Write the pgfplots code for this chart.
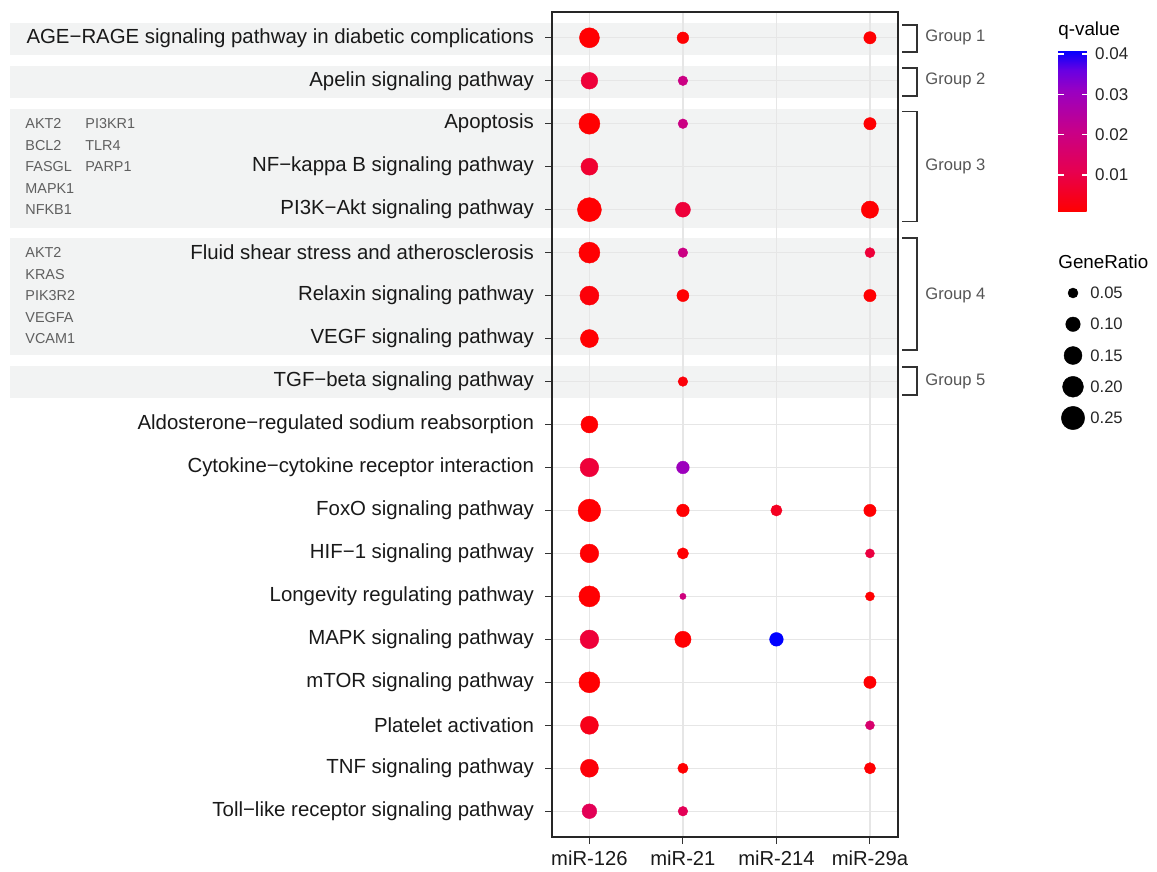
\documentclass[border=0pt]{standalone}
\usepackage{fontspec}
\setmainfont{Liberation Sans}
\usepackage{pgfplots}
\usepackage{pgfplotstable}
\pgfplotsset{compat=1.18}
\definecolor{band}{RGB}{242,243,243}
\definecolor{gridc}{RGB}{230,230,230}
\definecolor{genec}{RGB}{95,95,95}
\definecolor{grpc}{RGB}{85,85,85}
\definecolor{brk}{RGB}{50,50,50}

\pgfplotstableread{
x y gr
0 1 0.05
0 2 0.10
0 3 0.15
0 4 0.20
0 5 0.25
}\sizelegend

\pgfplotsset{
  dotsize/.style={
    scatter/@pre marker code/.append style={/tikz/mark size={0.5*sqrt(560*\gr-3)}},
  },
  dotstyle/.style={
    scatter, only marks, mark=*, point meta=explicit,
    visualization depends on={\thisrow{gr} \as \gr},
    scatter/use mapped color={draw=mapped color, fill=mapped color, line width=0.2pt},
    dotsize,
  }
}

\begin{document}
\begin{tikzpicture}
\begin{axis}[
  set layers,
  at={(276pt,-6pt)}, anchor=north west,
  scale only axis, width=173pt, height=412.5pt,
  xmin=0.6, xmax=4.3, ymin=0.4, ymax=19.6, y dir=reverse,
  xtick={1,2,3,4},
  xticklabels={miR-126,miR-21,miR-214,miR-29a},
  ytick={1,...,19},
  yticklabels={
    AGE−RAGE signaling pathway in diabetic complications,
    Apelin signaling pathway,
    Apoptosis,
    NF−kappa B signaling pathway,
    PI3K−Akt signaling pathway,
    Fluid shear stress and atherosclerosis,
    Relaxin signaling pathway,
    VEGF signaling pathway,
    TGF−beta signaling pathway,
    Aldosterone−regulated sodium reabsorption,
    Cytokine−cytokine receptor interaction,
    FoxO signaling pathway,
    HIF−1 signaling pathway,
    Longevity regulating pathway,
    MAPK signaling pathway,
    mTOR signaling pathway,
    Platelet activation,
    TNF signaling pathway,
    Toll−like receptor signaling pathway},
  xtick pos=bottom, ytick pos=left,
  tick align=outside, major tick length=3.5pt,
  tick style={black!80, line width=0.5pt},
  grid=major, grid style={gridc, line width=0.7pt},
  axis line style={black!85, line width=0.9pt},
  xticklabel style={font=\fontsize{10.1}{12}\selectfont, text=black!90},
  yticklabel style={font=\fontsize{10.2}{12}\selectfont, text=black!90, xshift=-2pt},
  clip=false,
  colormap={qv}{rgb255(0)=(255,0,0) rgb255(2)=(231,0,79) rgb255(4)=(200,0,136) rgb255(6)=(153,0,194) rgb255(7)=(104,0,226) rgb255(8)=(0,0,255)},
  point meta min=0.0008, point meta max=0.041,
  colorbar,
  colorbar style={
    at={(parent axis.north east)}, anchor=north west,
    xshift=71.5pt, yshift=-19pt,
    scale only axis, width=15pt, height=81pt,
    axis line style={draw=none},
    scaled y ticks=false,
    ytick={0.01,0.02,0.03,0.04},
    yticklabels={0.01,0.02,0.03,0.04},
    yticklabel pos=right, ytick pos=both,
    tick align=inside, major tick length=3pt,
    tick style={white, line width=0.6pt},
    yticklabel style={font=\fontsize{8.5}{10}\selectfont, text=black!85, xshift=0pt},
  },
]
\begin{pgfonlayer}{axis background}
  \fill[band] ([xshift=-271pt]axis cs:0.6,0.65) rectangle (axis cs:4.3,1.39);
  \fill[band] ([xshift=-271pt]axis cs:0.6,1.65) rectangle (axis cs:4.3,2.39);
  \fill[band] ([xshift=-271pt]axis cs:0.6,2.65) rectangle (axis cs:4.3,5.42);
  \fill[band] ([xshift=-271pt]axis cs:0.6,5.65) rectangle (axis cs:4.3,8.39);
  \fill[band] ([xshift=-271pt]axis cs:0.6,8.64) rectangle (axis cs:4.3,9.38);
\end{pgfonlayer}

% miR-126
\addplot[dotstyle] table[x=x, y=y, meta=q] {
x y gr q
1 1 0.184 0.001
1 2 0.130 0.008
1 3 0.202 0.001
1 4 0.134 0.007
1 5 0.263 0.001
1 6 0.202 0.001
1 7 0.167 0.002
1 8 0.150 0.001
1 10 0.134 0.001
1 11 0.161 0.008
1 12 0.235 0.001
1 13 0.161 0.001
1 14 0.202 0.001
1 15 0.161 0.008
1 16 0.202 0.001
1 17 0.150 0.004
1 18 0.150 0.002
1 19 0.102 0.012
};
% miR-21
\addplot[dotstyle] table[x=x, y=y, meta=q] {
x y gr q
2 1 0.066 0.001
2 2 0.047 0.020
2 3 0.047 0.020
2 5 0.106 0.008
2 6 0.047 0.020
2 7 0.070 0.001
2 9 0.047 0.002
2 11 0.077 0.030
2 12 0.077 0.001
2 13 0.062 0.001
2 14 0.023 0.019
2 15 0.124 0.001
2 18 0.053 0.001
2 19 0.047 0.012
};
% miR-214
\addplot[dotstyle] table[x=x, y=y, meta=q] {
x y gr q
3 12 0.062 0.005
3 15 0.089 0.041
};
% miR-29a
\addplot[dotstyle] table[x=x, y=y, meta=q] {
x y gr q
4 1 0.073 0.001
4 3 0.073 0.001
4 5 0.139 0.001
4 6 0.050 0.008
4 7 0.073 0.001
4 12 0.073 0.001
4 13 0.042 0.009
4 14 0.042 0.001
4 16 0.073 0.001
4 17 0.042 0.016
4 18 0.062 0.001
};

% gene lists
\begin{scope}[every node/.style={anchor=west, inner sep=0pt, font=\fontsize{7.2}{8}\selectfont, text=genec}]
  \node at ([xshift=-263.5pt]axis cs:0.6,3) {AKT2};
  \node at ([xshift=-263.5pt]axis cs:0.6,3.5) {BCL2};
  \node at ([xshift=-263.5pt]axis cs:0.6,4) {FASGL};
  \node at ([xshift=-263.5pt]axis cs:0.6,4.5) {MAPK1};
  \node at ([xshift=-263.5pt]axis cs:0.6,5) {NFKB1};
  \node at ([xshift=-233.5pt]axis cs:0.6,3) {PI3KR1};
  \node at ([xshift=-233.5pt]axis cs:0.6,3.5) {TLR4};
  \node at ([xshift=-233.5pt]axis cs:0.6,4) {PARP1};
  \node at ([xshift=-263.5pt]axis cs:0.6,6) {AKT2};
  \node at ([xshift=-263.5pt]axis cs:0.6,6.5) {KRAS};
  \node at ([xshift=-263.5pt]axis cs:0.6,7) {PIK3R2};
  \node at ([xshift=-263.5pt]axis cs:0.6,7.5) {VEGFA};
  \node at ([xshift=-263.5pt]axis cs:0.6,8) {VCAM1};
\end{scope}

% group brackets
\begin{scope}[brk, line width=0.75pt]
  \draw ([xshift=2pt]axis cs:4.3,0.7) -- ([xshift=9.5pt]axis cs:4.3,0.7) -- ([xshift=9.5pt]axis cs:4.3,1.33) -- ([xshift=2pt]axis cs:4.3,1.33);
  \draw ([xshift=2pt]axis cs:4.3,1.7) -- ([xshift=9.5pt]axis cs:4.3,1.7) -- ([xshift=9.5pt]axis cs:4.3,2.36) -- ([xshift=2pt]axis cs:4.3,2.36);
  \draw ([xshift=2pt]axis cs:4.3,2.72) -- ([xshift=9.5pt]axis cs:4.3,2.72) -- ([xshift=9.5pt]axis cs:4.3,5.28) -- ([xshift=2pt]axis cs:4.3,5.28);
  \draw ([xshift=2pt]axis cs:4.3,5.66) -- ([xshift=9.5pt]axis cs:4.3,5.66) -- ([xshift=9.5pt]axis cs:4.3,8.27) -- ([xshift=2pt]axis cs:4.3,8.27);
  \draw ([xshift=2pt]axis cs:4.3,8.66) -- ([xshift=9.5pt]axis cs:4.3,8.66) -- ([xshift=9.5pt]axis cs:4.3,9.31) -- ([xshift=2pt]axis cs:4.3,9.31);
\end{scope}
\begin{scope}[every node/.style={anchor=west, inner sep=0pt, font=\fontsize{8.3}{10}\selectfont, text=grpc}]
  \node at ([xshift=13.5pt]axis cs:4.3,1) {Group 1};
  \node at ([xshift=13.5pt]axis cs:4.3,2) {Group 2};
  \node at ([xshift=13.5pt]axis cs:4.3,4) {Group 3};
  \node at ([xshift=13.5pt]axis cs:4.3,7) {Group 4};
  \node at ([xshift=13.5pt]axis cs:4.3,9) {Group 5};
\end{scope}
\end{axis}

% legend titles
\node[anchor=west, inner sep=0pt, font=\fontsize{9.4}{11}\selectfont] at (529pt,-15.5pt) {q-value};
\node[anchor=west, inner sep=0pt, font=\fontsize{9.4}{11}\selectfont] at (529pt,-131pt) {GeneRatio};

% size legend
\begin{axis}[
  at={(535.5pt,-146.5pt)}, anchor=north west,
  scale only axis, width=2pt, height=62.5pt,
  xmin=-1, xmax=1, ymin=1, ymax=5, y dir=reverse,
  hide axis, clip=false,
]
\addplot[scatter, only marks, mark=*, point meta=explicit,
  visualization depends on={\thisrow{gr} \as \gr},
  scatter/use mapped color={draw=black, fill=black, line width=0.2pt},
  dotsize]
  table[x=x, y=y, meta=gr] {\sizelegend};
\addplot[draw=none, mark=none, point meta=explicit,
  nodes near coords={\pgfmathprintnumber[fixed,fixed zerofill,precision=2,assume math mode=true]{\pgfplotspointmeta}},
  every node near coord/.append style={anchor=west, xshift=8.5pt, inner sep=0pt, font=\fontsize{8.3}{10}\selectfont, text=black!85}]
  table[x=x, y=y, meta=gr] {\sizelegend};
\end{axis}
\pgfresetboundingbox
\useasboundingbox (0,0) rectangle (578.5pt,-436pt);
\end{tikzpicture}
\end{document}
